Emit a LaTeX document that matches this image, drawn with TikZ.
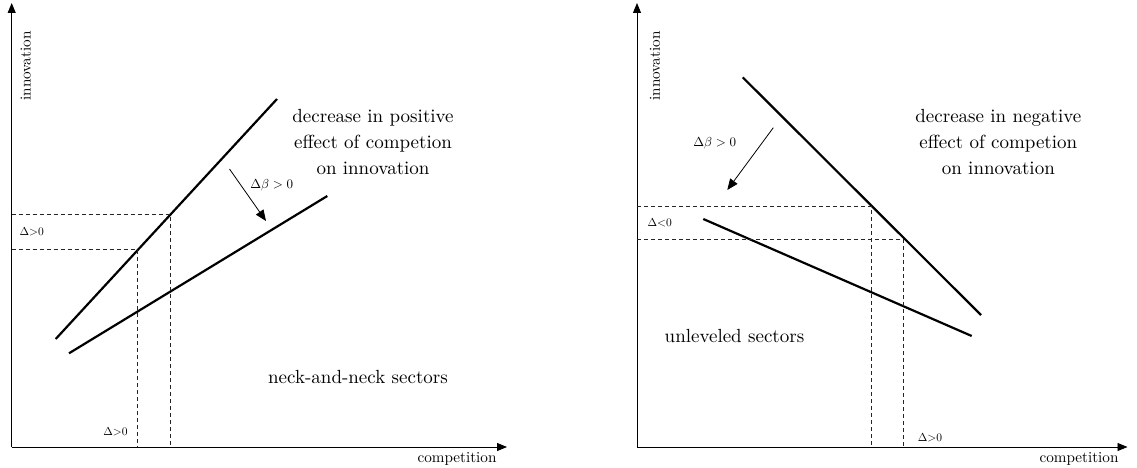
\documentclass[tikz,border=0pt]{standalone}
\usepackage{fix-cm}
\usepackage{fontspec}
\usetikzlibrary{arrows.meta}
\begin{document}
\begin{tikzpicture}[x=1pt,y=-1pt,
  axisline/.style={line width=0.9pt,-{Triangle[length=10pt,width=8pt]}},
  curveline/.style={line width=2.2pt},
  guideline/.style={line width=0.8pt,black!85,dash pattern=on 4pt off 3pt},
  shiftarrow/.style={line width=0.8pt,-{Triangle[length=11pt,width=9pt]}},
  axislabel/.style={inner sep=0pt,font=\fontsize{10}{12}\selectfont,scale=1.52},
  bigtext/.style={inner sep=0pt,align=center,font=\fontsize{10}{13.84}\selectfont,scale=1.9},
  smalltext/.style={inner sep=0pt,font=\fontsize{10}{12}\selectfont,scale=1.15},
  betatext/.style={inner sep=0pt,font=\fontsize{10}{12}\selectfont,scale=1.3}]
\useasboundingbox (0,0) rectangle (1137,468);

% ---------- left panel ----------
\coordinate (Lo) at (11.7,447);
\coordinate (Ly) at (11.7,3);
\coordinate (Lx) at (507,447);
\draw[axisline] (Lo) -- (Ly);
\draw[axisline] (Lo) -- (Lx);
\node[axislabel,rotate=90] (Linn) at (25.8,66) {innovation};
\node[axislabel] (Lcomp) at (457,459) {competition};

\coordinate (LuA) at (55.7,339);
\coordinate (LuB) at (277,99);
\coordinate (LlA) at (69,353.3);
\coordinate (LlB) at (327.3,196);
\draw[curveline] (LuA) -- (LuB);
\draw[curveline] (LlA) -- (LlB);

\coordinate (Lp1) at (170,214.6);
\coordinate (Lp2) at (137.3,249.8);
\coordinate (Lh1) at (11.7,214.6);
\coordinate (Lh2) at (11.7,249.8);
\coordinate (Lv1) at (170,447);
\coordinate (Lv2) at (137.3,447);
\draw[guideline] (Lh1) -- (Lp1) -- (Lv1);
\draw[guideline] (Lh2) -- (Lp2) -- (Lv2);

\coordinate (LaS) at (229.5,169);
\coordinate (LaE) at (266,221);
\draw[shiftarrow] (LaS) -- (LaE);
\node[betatext] (Lbeta) at (271.7,185) {$\Delta\beta > 0$};
\node[smalltext] (Ldy) at (31.7,231.7) {$\Delta{>}0$};
\node[smalltext] (Ldx) at (115.5,432) {$\Delta{>}0$};

\node[bigtext] (Ltext) at (373,142) {decrease in positive\\effect of competion\\on innovation};
\node[bigtext] (Lsect) at (358,377) {neck-and-neck sectors};

% ---------- right panel ----------
\coordinate (Ro) at (637,447);
\coordinate (Ry) at (637,3);
\coordinate (Rx) at (1127.5,447);
\draw[axisline] (Ro) -- (Ry);
\draw[axisline] (Ro) -- (Rx);
\node[axislabel,rotate=90] (Rinn) at (655,66) {innovation};
\node[axislabel] (Rcomp) at (1079,459) {competition};

\coordinate (RuA) at (742.7,77.3);
\coordinate (RuB) at (981,315);
\coordinate (RlA) at (703.3,219);
\coordinate (RlB) at (971.7,336);
\draw[curveline] (RuA) -- (RuB);
\draw[curveline] (RlA) -- (RlB);

\coordinate (Rp1) at (871.2,206);
\coordinate (Rp2) at (903.5,239.3);
\coordinate (Rh1) at (637,206);
\coordinate (Rh2) at (637,239.3);
\coordinate (Rv1) at (871.2,447);
\coordinate (Rv2) at (903.5,447);
\draw[guideline] (Rh1) -- (Rp1) -- (Rv1);
\draw[guideline] (Rh2) -- (Rp2) -- (Rv2);

\coordinate (RaS) at (773.3,127.7);
\coordinate (RaE) at (727.3,190);
\draw[shiftarrow] (RaS) -- (RaE);
\node[betatext] (Rbeta) at (714.7,143.3) {$\Delta\beta > 0$};
\node[smalltext] (Rdy) at (659.7,222.7) {$\Delta{<}0$};
\node[smalltext] (Rdx) at (930,437.3) {$\Delta{>}0$};

\node[bigtext] (Rtext) at (998.3,142) {decrease in negative\\effect of competion\\on innovation};
\node[bigtext] (Rsect) at (734.5,336) {unleveled sectors};
\end{tikzpicture}
\end{document}
